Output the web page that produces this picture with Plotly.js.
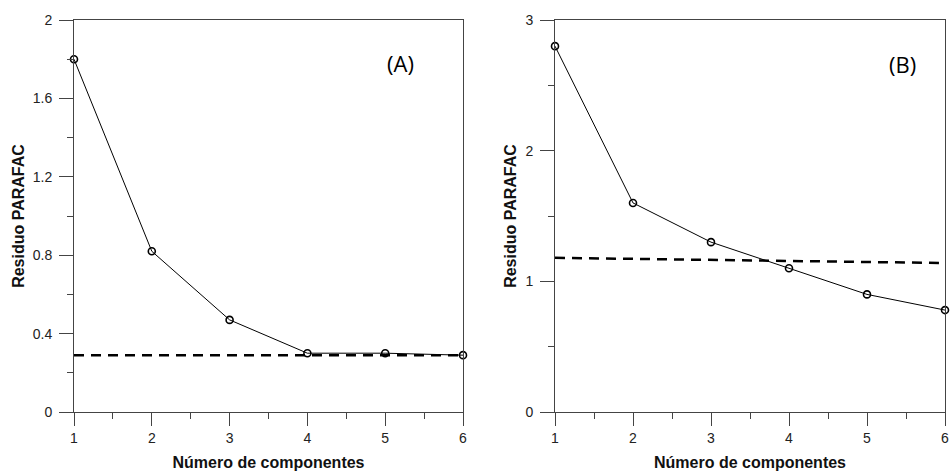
<!DOCTYPE html>
<html>
<head>
<meta charset="utf-8">
<script src="https://cdn.plot.ly/plotly-3.0.1.min.js"></script>
<style>html,body{margin:0;padding:0;background:#fff}#chart{width:950px;height:476px}</style>
</head>
<body>
<div id="chart"></div>
<script>
// Data
const componentes = [1, 2, 3, 4, 5, 6];
const residuoA = [1.8, 0.82, 0.47, 0.30, 0.30, 0.29];
const residuoB = [2.8, 1.6, 1.3, 1.1, 0.9, 0.78];
const corteA_x = [1, 6];
const corteA_y = [0.29, 0.29];
const corteB_x = [1, 6];
const corteB_y = [1.18, 1.14];
const panelLabels = ['(A)', '(B)'];
const xTitle = 'Número de componentes';
const yTitle = 'Residuo PARAFAC';

const lineStyle = {color: '#000', width: 1};
const markerStyle = {symbol: 'circle-open', size: 7, color: '#000', line: {width: 1.6, color: '#000'}};
const dashStyle = {color: '#000', width: 2.5, dash: '10px,7px'};

const traces = [
  {x: corteA_x, y: corteA_y, mode: 'lines', line: dashStyle, xaxis: 'x', yaxis: 'y', cliponaxis: false, hoverinfo: 'skip'},
  {x: componentes, y: residuoA, mode: 'lines+markers', line: lineStyle, marker: markerStyle, xaxis: 'x', yaxis: 'y', cliponaxis: false},
  {x: corteB_x, y: corteB_y, mode: 'lines', line: dashStyle, xaxis: 'x2', yaxis: 'y2', cliponaxis: false, hoverinfo: 'skip'},
  {x: componentes, y: residuoB, mode: 'lines+markers', line: lineStyle, marker: markerStyle, xaxis: 'x2', yaxis: 'y2', cliponaxis: false}
];

const axisColor = '#444';
const tickFont = {family: 'Liberation Sans, Arial, sans-serif', size: 14, color: '#222'};
const titleFont = {family: 'Liberation Sans, Arial, sans-serif', size: 16, color: '#111', weight: 'bold'};

function xAxis(domain) {
  return {
    domain: domain, range: [1, 6], tickvals: componentes, ticktext: componentes.map(String),
    ticks: 'outside', ticklen: 13, tickwidth: 1, tickcolor: axisColor,
    minor: {dtick: 0.5, tick0: 1, ticks: 'outside', ticklen: 6, tickwidth: 1, tickcolor: axisColor, showgrid: false},
    showline: true, linecolor: axisColor, linewidth: 1, mirror: true,
    showgrid: false, zeroline: false, tickfont: tickFont,
    title: {text: xTitle, font: titleFont, standoff: 12}, automargin: false, fixedrange: true
  };
}
function yAxis(range, dtick, minorDtick, anchor) {
  return {
    domain: [0, 1], range: range, dtick: dtick, tick0: 0, ticksuffix: ' ',
    ticks: 'outside', ticklen: 14, tickwidth: 1, tickcolor: axisColor,
    minor: {dtick: minorDtick, tick0: 0, ticks: 'outside', ticklen: 6, tickwidth: 1, tickcolor: axisColor, showgrid: false},
    showline: true, linecolor: axisColor, linewidth: 1, mirror: true,
    showgrid: false, zeroline: false, tickfont: tickFont, anchor: anchor,
    title: {text: yTitle, font: titleFont, standoff: 4}, automargin: false, fixedrange: true
  };
}

const plotW = 950 - 74 - 5;
const layout = {
  width: 950, height: 476,
  margin: {l: 74, r: 5, t: 20, b: 64},
  paper_bgcolor: '#fff', plot_bgcolor: '#fff',
  showlegend: false,
  xaxis: Object.assign(xAxis([0, 389/plotW]), {anchor: 'y'}),
  yaxis: yAxis([0, 2], 0.4, 0.2, 'x'),
  xaxis2: Object.assign(xAxis([(555-74)/plotW, 1]), {anchor: 'y2'}),
  yaxis2: yAxis([0, 3], 1, 0.5, 'x2'),
  annotations: [
    {text: panelLabels[0], xref: 'x', yref: 'y', x: 5.2, y: 1.78, showarrow: false,
     font: {family: 'Open Sans, sans-serif', size: 22, color: '#000'}},
    {text: panelLabels[1], xref: 'x2', yref: 'y2', x: 5.45, y: 2.66, showarrow: false,
     font: {family: 'Open Sans, sans-serif', size: 22, color: '#000'}}
  ]
};

Plotly.newPlot('chart', traces, layout, {displayModeBar: false, staticPlot: true});
</script>
</body>
</html>
